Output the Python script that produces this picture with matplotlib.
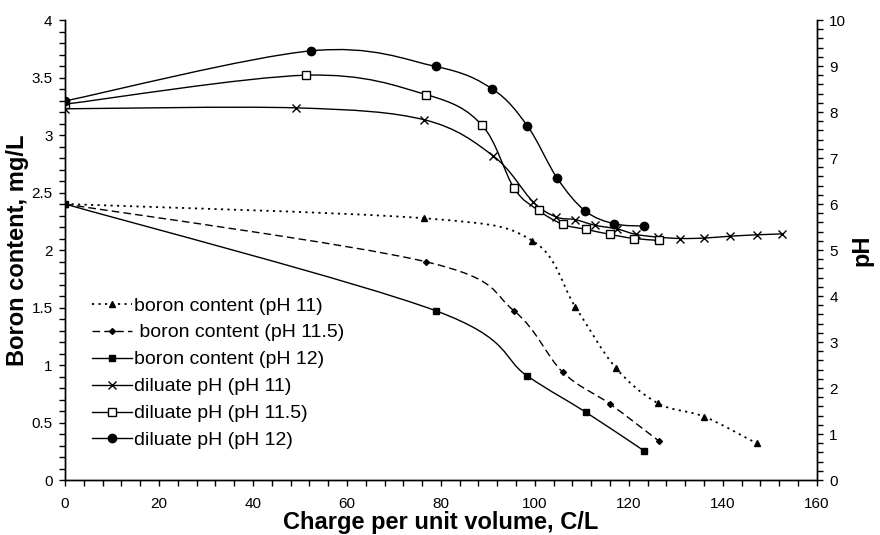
import numpy as np
import matplotlib
matplotlib.use("Agg")
import matplotlib.pyplot as plt
from matplotlib.path import Path
from matplotlib.patches import PathPatch
from matplotlib.lines import Line2D
from matplotlib.ticker import FormatStrFormatter, MultipleLocator

plt.rcParams['font.family'] = ['Liberation Sans', 'DejaVu Sans']

# boron content (left axis, mg/L)
q_b11 = [0, 76.5, 99.5, 108.6, 117.2, 126.2, 136.1, 147.2]
b_b11 = [2.40, 2.276, 2.08, 1.507, 0.977, 0.667, 0.55, 0.319]
q_b115 = [0, 76.8, 95.6, 105.9, 116.0, 126.4]
b_b115 = [2.40, 1.898, 1.47, 0.939, 0.661, 0.339]
q_b12 = [0, 78.9, 98.3, 110.8, 123.2]
b_b12 = [2.40, 1.472, 0.907, 0.591, 0.255]

# diluate pH (right axis)
q_p11 = [0, 49.2, 76.5, 91.2, 99.6, 104.5, 108.6, 112.7, 117.4, 121.5, 126.2,
         131.0, 136.1, 141.6, 147.2, 152.7]
p_p11 = [8.07, 8.09, 7.83, 7.04, 6.05, 5.72, 5.66, 5.54, 5.46, 5.34, 5.28,
         5.25, 5.26, 5.30, 5.33, 5.35]
q_p115 = [0, 51.3, 76.8, 88.7, 95.6, 100.8, 105.9, 110.8, 116.0, 121.1, 126.4]
p_p115 = [8.17, 8.80, 8.38, 7.72, 6.34, 5.86, 5.56, 5.45, 5.34, 5.25, 5.21]
q_p12 = [0, 52.4, 78.9, 90.96, 98.4, 104.7, 110.7, 116.9, 123.2]
p_p12 = [8.24, 9.33, 8.99, 8.50, 7.70, 6.57, 5.85, 5.57, 5.52]


def smooth_path(x, y):
    # bezier through the points, like a spreadsheet "smoothed line"
    pts = np.column_stack([x, y]).astype(float)
    n = len(pts)
    verts = [pts[0]]
    codes = [Path.MOVETO]
    for i in range(n - 1):
        p0 = pts[i - 1] if i > 0 else pts[i]
        p1 = pts[i]
        p2 = pts[i + 1]
        p3 = pts[i + 2] if i + 2 < n else pts[i + 1]
        verts += [p1 + (p2 - p0) / 6, p2 - (p3 - p1) / 6, p2]
        codes += [Path.CURVE4] * 3
    return Path(verts, codes)


dotted = (0, (1.2, 2.4))
dashed = (0, (5.5, 3))

fig = plt.figure(figsize=(8.8, 5.35), dpi=100)
ax = fig.add_axes([0.0739, 0.1028, 0.8542, 0.8598])
ax2 = ax.twinx()

series = [
    (ax, q_b11, b_b11, dotted, 1.3, dict(marker='^', ms=4, mfc='k'), "boron content (pH 11)"),
    (ax, q_b115, b_b115, dashed, 1.0, dict(marker='D', ms=3, mfc='k'), " boron content (pH 11.5)"),
    (ax, q_b12, b_b12, '-', 1.0, dict(marker='s', ms=5, mfc='k'), "boron content (pH 12)"),
    (ax2, q_p11, p_p11, '-', 1.0, dict(marker='x', ms=6, mew=1.0), "diluate pH (pH 11)"),
    (ax2, q_p115, p_p115, '-', 1.0, dict(marker='s', ms=5.5, mfc='white', mew=1.0), "diluate pH (pH 11.5)"),
    (ax2, q_p12, p_p12, '-', 1.0, dict(marker='o', ms=6, mfc='k'), "diluate pH (pH 12)"),
]

handles = []
for a, xs, ys, ls, lw, mk, lab in series:
    a.add_patch(PathPatch(smooth_path(xs, ys), fill=False, ec='k', lw=lw, ls=ls))
    a.plot(xs, ys, ls='none', color='k', **mk)
    handles.append(Line2D([], [], color='k', lw=lw, ls=ls, label=lab, **mk))

ax.set_xlim(0, 160)
ax.set_ylim(0, 4)
ax2.set_ylim(0, 10)

ax.xaxis.set_major_locator(MultipleLocator(20))
ax.xaxis.set_minor_locator(MultipleLocator(4))
ax.yaxis.set_major_locator(MultipleLocator(0.5))
ax.yaxis.set_minor_locator(MultipleLocator(0.1))
ax2.yaxis.set_major_locator(MultipleLocator(1))
ax2.yaxis.set_minor_locator(MultipleLocator(0.2))
ax.yaxis.set_major_formatter(FormatStrFormatter('%g'))
ax2.yaxis.set_major_formatter(FormatStrFormatter('%g'))

for a in (ax, ax2):
    a.spines['top'].set_visible(False)
    for s in a.spines.values():
        s.set_linewidth(1.0)
    a.tick_params(which='both', direction='out', length=4, width=1.0, labelsize=11, pad=5)
ax.tick_params(axis='x', pad=8)

ax.set_xlabel("Charge per unit volume, C/L", fontsize=17, fontweight='bold', labelpad=0)
ax.set_ylabel("Boron content, mg/L", fontsize=17, fontweight='bold', labelpad=2)
ax2.set_ylabel("pH", fontsize=17, fontweight='bold', rotation=90, labelpad=3)

ax2.legend(handles=handles, loc='upper left', bbox_to_anchor=(0.104, 0.445),
           bbox_transform=fig.transFigure, frameon=False, fontsize=14,
           handlelength=2.1, handletextpad=0.1, labelspacing=0.48,
           borderpad=0, borderaxespad=0)

fig.savefig("out.png", dpi=100)
